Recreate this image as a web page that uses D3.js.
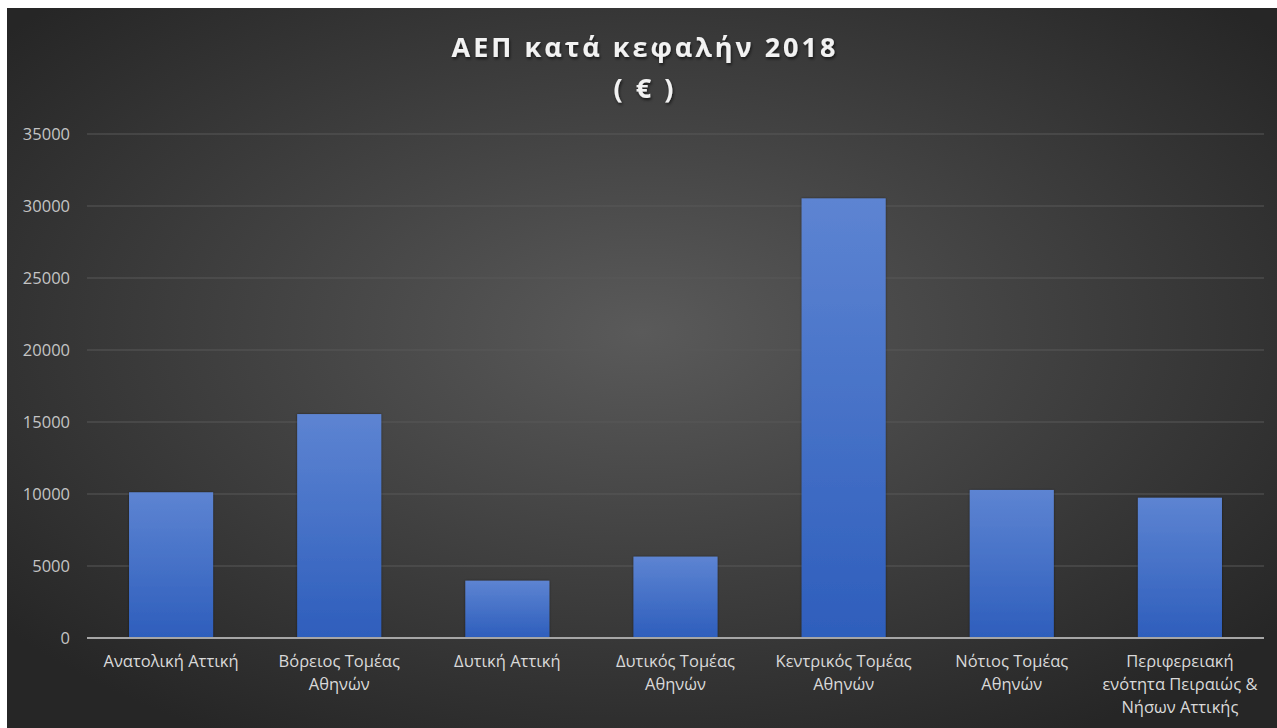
<!DOCTYPE html>
<html>
<head>
<meta charset="utf-8">
<script src="https://cdn.jsdelivr.net/npm/d3@7"></script>
<style>
  body { margin: 0; background: #ffffff; }
  #chart { position: absolute; left: 0; top: 0; }
</style>
</head>
<body>
<div id="chart"></div>
<script>
// data
var categories = ["Ανατολική Αττική", "Βόρειος  Τομέας Αθηνών", "Δυτική Αττική", "Δυτικός Τομέας Αθηνών",
                  "Κεντρικός Τομέας Αθηνών", "Νότιος  Τομέας Αθηνών", "Περιφερειακή ενότητα Πειραιώς & Νήσων Αττικής"];
var values = [10120, 15550, 3980, 5650, 30530, 10280, 9740];
var yTicks = [0, 5000, 10000, 15000, 20000, 25000, 30000, 35000];
var titleLines = ["ΑΕΠ κατά κεφαλήν 2018", "( € )"];

const width = 1277, height = 728;
const margin = {left: 87, right: 13, top: 134, bottom: 90};

const svg = d3.select("#chart").append("svg")
    .attr("width", width)
    .attr("height", height);

var defs = svg.append("defs");

// background radial gradient
var bg = defs.append("radialGradient")
    .attr("id", "bgGrad")
    .attr("cx", "50%").attr("cy", "45%")
    .attr("r", "65%");
bg.append("stop").attr("offset", "0%").attr("stop-color", "#5a5a5a");
bg.append("stop").attr("offset", "100%").attr("stop-color", "#262626");

// bar gradient
var barGrad = defs.append("linearGradient")
    .attr("id", "barGrad")
    .attr("x1", 0).attr("y1", 0).attr("x2", 0).attr("y2", 1);
barGrad.append("stop").attr("offset", "0%").attr("stop-color", "#5d84d2");
barGrad.append("stop").attr("offset", "100%").attr("stop-color", "#2e5ebc");

var shadow = defs.append("filter").attr("id", "txtShadow")
    .attr("x", "-10%").attr("y", "-30%").attr("width", "120%").attr("height", "160%");
shadow.append("feDropShadow").attr("dx", 1).attr("dy", 2).attr("stdDeviation", 1.5)
    .attr("flood-color", "#000").attr("flood-opacity", 0.6);

var barShadow = defs.append("filter").attr("id", "barShadow")
    .attr("x", "-10%").attr("y", "-10%").attr("width", "120%").attr("height", "120%");
barShadow.append("feDropShadow").attr("dx", 0).attr("dy", 0).attr("stdDeviation", 1.2)
    .attr("flood-color", "#000").attr("flood-opacity", 0.5);

svg.append("rect")
    .attr("x", 7).attr("y", 8)
    .attr("width", width - 7).attr("height", height - 8)
    .attr("fill", "url(#bgGrad)");

// scales
var x = d3.scaleBand()
    .domain(categories)
    .range([margin.left, width - margin.right])
    .paddingInner(0.5)
    .paddingOuter(0.25);

var y = d3.scaleLinear()
    .domain([0, 35000])
    .range([638, margin.top]);

// grid lines
svg.append("g")
    .selectAll("line")
    .data(yTicks.filter(function(d){ return d > 0; }))
    .enter().append("line")
    .attr("x1", margin.left)
    .attr("x2", width - margin.right)
    .attr("y1", function(d){ return y(d); })
    .attr("y2", function(d){ return y(d); })
    .attr("stroke", "#585858")
    .attr("stroke-width", 1.2);

// y axis labels
var yAxis = d3.axisLeft(y).tickValues(yTicks).tickFormat(d3.format("d")).tickSize(0).tickPadding(17);
var yG = svg.append("g")
    .attr("transform", "translate(" + margin.left + ",0)")
    .call(yAxis);
yG.select(".domain").remove();
yG.selectAll("text")
    .attr("fill", "#c4c4c4")
    .style("font-family", "'Open Sans', sans-serif")
    .style("font-size", "16.5px");

// bars
svg.append("g")
    .selectAll("rect")
    .data(values)
    .enter().append("rect")
    .attr("x", function(d, i){ return x(categories[i]); })
    .attr("y", function(d){ return y(d); })
    .attr("width", x.bandwidth())
    .attr("height", function(d){ return y(0) - y(d); })
    .attr("fill", "url(#barGrad)")
    .attr("filter", "url(#barShadow)");

// baseline
svg.append("line")
    .attr("x1", margin.left)
    .attr("x2", width - margin.right)
    .attr("y1", y(0))
    .attr("y2", y(0))
    .attr("stroke", "#a6a6a6")
    .attr("stroke-width", 2);

// x axis labels (wrapped)
var xAxis = d3.axisBottom(x).tickSize(0).tickPadding(17);
var xG = svg.append("g")
    .attr("transform", "translate(0," + y(0) + ")")
    .call(xAxis);
xG.select(".domain").remove();
xG.selectAll("text")
    .attr("fill", "#d9d9d9")
    .style("font-family", "'Open Sans', sans-serif")
    .style("font-size", "16.5px")
    .call(wrap, 160);

function wrap(texts, w) {
    texts.each(function() {
        var text = d3.select(this),
            words = text.text().split(/\s+/),
            line = [],
            lineNumber = 0,
            lineHeight = 23,
            yy = +text.attr("y"),
            tspan = text.text(null).append("tspan").attr("x", 0).attr("y", yy).attr("dy", "0.71em");
        words.forEach(function(word) {
            line.push(word);
            tspan.text(line.join(" "));
            if (tspan.node().getComputedTextLength() > w && line.length > 1) {
                line.pop();
                tspan.text(line.join(" "));
                line = [word];
                lineNumber++;
                tspan = text.append("tspan").attr("x", 0)
                    .attr("y", yy + lineNumber * lineHeight)
                    .attr("dy", "0.71em")
                    .text(word);
            }
        });
    });
}

// title
svg.append("g")
    .selectAll("text")
    .data(titleLines)
    .enter().append("text")
    .attr("x", 645)
    .attr("y", function(d, i){ return 57 + i * 41; })
    .attr("text-anchor", "middle")
    .attr("fill", "#f2f2f2")
    .attr("filter", "url(#txtShadow)")
    .style("font-family", "'Open Sans', sans-serif")
    .style("font-weight", "bold")
    .style("font-size", "27px")
    .style("letter-spacing", "3px")
    .text(function(d){ return d; });
</script>
</body>
</html>
